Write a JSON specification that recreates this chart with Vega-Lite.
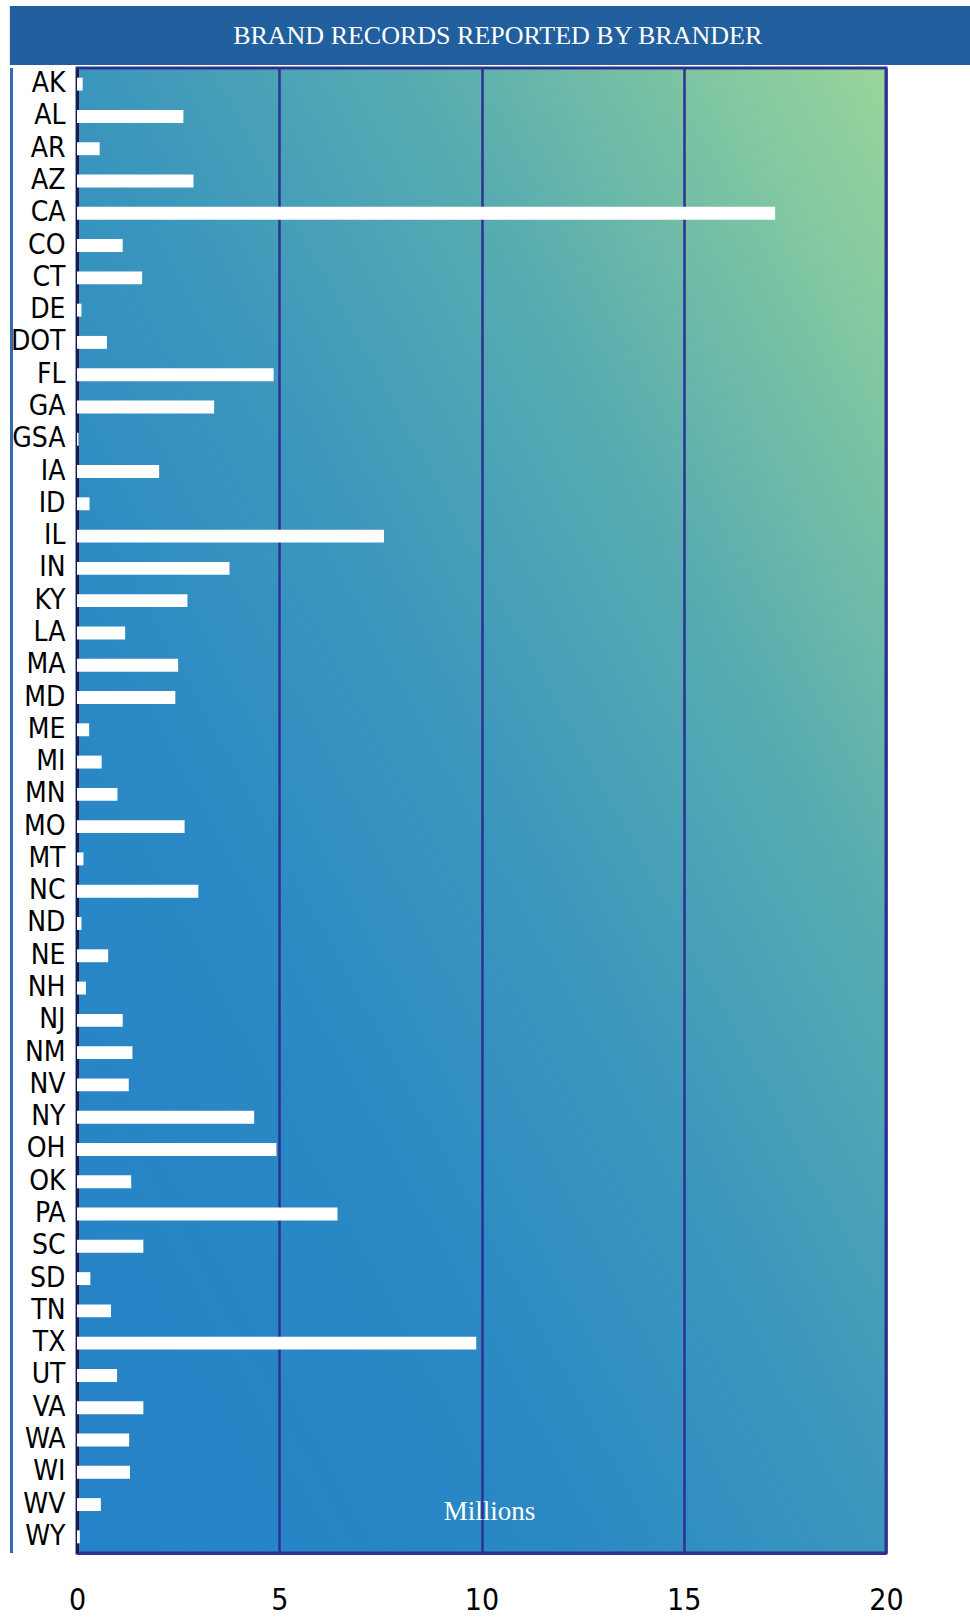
{
  "$schema": "https://vega.github.io/schema/vega-lite/v6.json",
  "background": "white",
  "padding": {"left": 8, "top": 6, "right": 0, "bottom": 0},
  "autosize": {"type": "pad"},
  "spacing": 0,
  "config": {"font": "DejaVu Sans Condensed, Liberation Sans Narrow, Liberation Sans, sans-serif"},
  "vconcat": [
    {
      "width": 809,
      "height": 59,
      "view": {"stroke": null},
      "data": {"values": [{"title": "BRAND RECORDS REPORTED BY BRANDER"}]},
      "layer": [
        {
          "mark": {"type": "rect", "color": "#215f9e"},
          "encoding": {
            "x": {"datum": -1.66, "type": "quantitative", "scale": {"domain": [0, 20], "nice": false}, "axis": null},
            "x2": {"datum": 22.1}
          }
        },
        {
          "mark": {"type": "text", "font": "Liberation Serif", "fontSize": 26, "color": "white", "baseline": "middle", "align": "center"},
          "encoding": {
            "text": {"field": "title"},
            "x": {"datum": 10.4, "type": "quantitative"}
          }
        }
      ]
    },
    {
      "width": 809,
      "height": 1485,
      "view": {
        "fill": {
          "gradient": "linear",
          "x1": 0, "y1": 1, "x2": 1, "y2": 0,
          "stops": [
            {"offset": 0, "color": "#2582c8"},
            {"offset": 0.3, "color": "#2a88c4"},
            {"offset": 0.5, "color": "#3b96bd"},
            {"offset": 0.7, "color": "#56abb1"},
            {"offset": 0.88, "color": "#7ec5a2"},
            {"offset": 1, "color": "#9ad69b"}
          ]
        },
        "stroke": "#2e3192",
        "strokeWidth": 3
      },
      "data": {"values": [
        {"state": "AK", "records": 0.14},
        {"state": "AL", "records": 2.63},
        {"state": "AR", "records": 0.56},
        {"state": "AZ", "records": 2.88},
        {"state": "CA", "records": 17.26},
        {"state": "CO", "records": 1.13},
        {"state": "CT", "records": 1.61},
        {"state": "DE", "records": 0.11},
        {"state": "DOT", "records": 0.74},
        {"state": "FL", "records": 4.86},
        {"state": "GA", "records": 3.39},
        {"state": "GSA", "records": 0.04},
        {"state": "IA", "records": 2.03},
        {"state": "ID", "records": 0.31},
        {"state": "IL", "records": 7.59},
        {"state": "IN", "records": 3.77},
        {"state": "KY", "records": 2.73},
        {"state": "LA", "records": 1.19},
        {"state": "MA", "records": 2.5},
        {"state": "MD", "records": 2.43},
        {"state": "ME", "records": 0.3},
        {"state": "MI", "records": 0.61},
        {"state": "MN", "records": 1.0},
        {"state": "MO", "records": 2.66},
        {"state": "MT", "records": 0.16},
        {"state": "NC", "records": 3.0},
        {"state": "ND", "records": 0.11},
        {"state": "NE", "records": 0.77},
        {"state": "NH", "records": 0.22},
        {"state": "NJ", "records": 1.13},
        {"state": "NM", "records": 1.37},
        {"state": "NV", "records": 1.28},
        {"state": "NY", "records": 4.38},
        {"state": "OH", "records": 4.93},
        {"state": "OK", "records": 1.34},
        {"state": "PA", "records": 6.44},
        {"state": "SC", "records": 1.64},
        {"state": "SD", "records": 0.33},
        {"state": "TN", "records": 0.84},
        {"state": "TX", "records": 9.87},
        {"state": "UT", "records": 0.99},
        {"state": "VA", "records": 1.64},
        {"state": "WA", "records": 1.29},
        {"state": "WI", "records": 1.31},
        {"state": "WV", "records": 0.59},
        {"state": "WY", "records": 0.07}
      ]},
      "layer": [
        {
          "mark": {"type": "bar", "color": "white"},
          "encoding": {
            "y": {
              "field": "state",
              "type": "nominal",
              "sort": null,
              "scale": {"paddingInner": 0.6, "paddingOuter": 0.3},
              "axis": {
                "title": null,
                "ticks": false,
                "domain": true,
                "domainColor": "#1c1a4c",
                "domainWidth": 3,
                "labelFontSize": 28,
                "labelColor": "black",
                "labelPadding": 12,
                "grid": false
              }
            },
            "x": {
              "field": "records",
              "type": "quantitative",
              "scale": {"domain": [0, 20], "nice": false},
              "axis": {
                "values": [0, 5, 10, 15, 20],
                "title": "Millions",
                "titleFont": "Liberation Serif",
                "titleFontSize": 27,
                "titleFontWeight": "normal",
                "titleColor": "white",
                "titleX": 412,
                "titleY": -34,
                "titleBaseline": "alphabetic",
                "ticks": false,
                "grid": true,
                "gridColor": "#2e3192",
                "gridWidth": 2.5,
                "gridOpacity": 1,
                "domainColor": "#2e3192",
                "domainWidth": 3,
                "labelFlush": false,
                "labelFontSize": 30,
                "labelColor": "black",
                "labelPadding": 32
              }
            }
          }
        },
        {
          "mark": {"type": "rule", "color": "#2f6fb1", "strokeWidth": 2},
          "encoding": {"x": {"datum": -1.63}}
        }
      ]
    }
  ]
}
